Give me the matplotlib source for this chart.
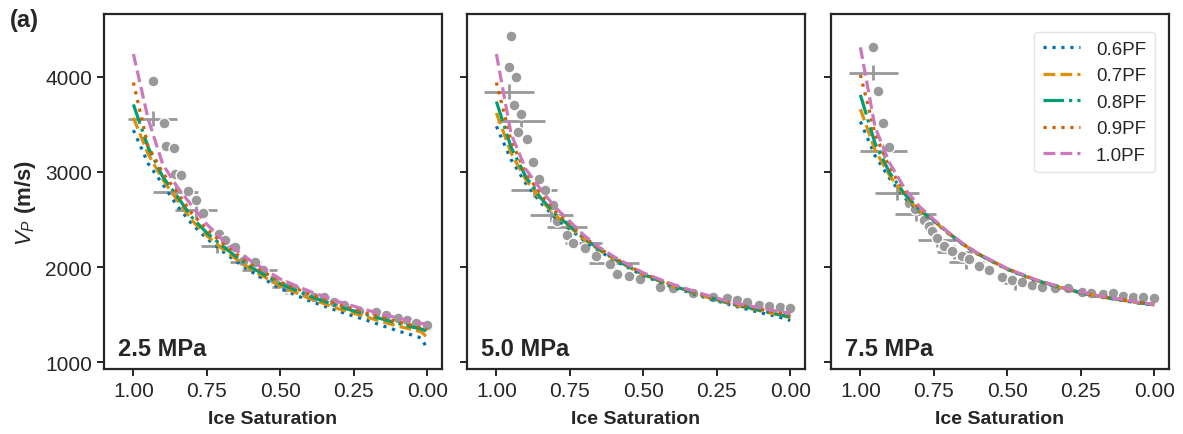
import numpy as np
import matplotlib
matplotlib.use("Agg")
import matplotlib.pyplot as plt

plt.rcParams['font.family'] = ['Liberation Sans', 'DejaVu Sans']
plt.rcParams['mathtext.fontset'] = 'custom'
plt.rcParams['mathtext.rm'] = 'Liberation Sans'
plt.rcParams['mathtext.it'] = 'Liberation Sans:italic'
plt.rcParams['mathtext.bf'] = 'Liberation Sans:bold'

# ---------------- data ----------------
pressures = ["2.5 MPa", "5.0 MPa", "7.5 MPa"]
series_labels = ["0.6PF", "0.7PF", "0.8PF", "0.9PF", "1.0PF"]
series_colors = ["#0173b2", "#de8f05", "#029e73", "#d55e00", "#cc78bc"]

# model curves: ice saturation grid
S_grid = [1.0, 0.95, 0.9, 0.85, 0.8, 0.75, 0.7, 0.65, 0.6, 0.5, 0.4, 0.3, 0.2, 0.1, 0.05, 0.02, 0.0]

# panel 1 (2.5 MPa)
p1_06 = [3440, 3090, 2870, 2640, 2450, 2300, 2175, 2060, 1955, 1775, 1645, 1535, 1435, 1330, 1285, 1255, 1140]
p1_07 = [3570, 3190, 2920, 2700, 2490, 2330, 2200, 2085, 1980, 1800, 1670, 1560, 1470, 1380, 1345, 1320, 1260]
p1_08 = [3710, 3260, 2950, 2740, 2520, 2360, 2230, 2110, 2000, 1825, 1695, 1585, 1495, 1410, 1370, 1350, 1325]
p1_09 = [3940, 3270, 2990, 2780, 2560, 2400, 2260, 2140, 2030, 1845, 1715, 1605, 1510, 1425, 1385, 1360, 1345]
p1_10 = [4240, 3560, 3080, 2840, 2640, 2450, 2300, 2180, 2065, 1875, 1745, 1635, 1545, 1465, 1430, 1410, 1395]

# panel 2 (5.0 MPa)
p2_06 = [3480, 3130, 2880, 2680, 2520, 2400, 2275, 2170, 2075, 1910, 1790, 1690, 1600, 1520, 1485, 1460, 1440]
p2_07 = [3620, 3200, 2920, 2710, 2545, 2420, 2290, 2180, 2085, 1920, 1800, 1700, 1610, 1540, 1505, 1485, 1470]
p2_08 = [3740, 3260, 2950, 2730, 2560, 2430, 2300, 2190, 2090, 1925, 1805, 1705, 1615, 1545, 1510, 1490, 1480]
p2_09 = [3940, 3330, 2990, 2770, 2590, 2450, 2310, 2200, 2100, 1930, 1810, 1710, 1620, 1555, 1525, 1505, 1495]
p2_10 = [4240, 3400, 3030, 2820, 2630, 2480, 2330, 2210, 2110, 1940, 1820, 1720, 1630, 1570, 1540, 1525, 1515]

# panel 3 (7.5 MPa)
p3_06 = [3530, 3170, 2930, 2730, 2585, 2480, 2350, 2235, 2135, 1975, 1855, 1765, 1695, 1645, 1620, 1610, 1600]
p3_07 = [3660, 3230, 2960, 2750, 2595, 2485, 2355, 2238, 2138, 1978, 1858, 1768, 1698, 1648, 1623, 1612, 1603]
p3_08 = [3810, 3300, 2990, 2770, 2605, 2490, 2358, 2240, 2140, 1980, 1860, 1770, 1700, 1650, 1625, 1614, 1605]
p3_09 = [4020, 3400, 3040, 2800, 2620, 2495, 2360, 2242, 2142, 1982, 1862, 1772, 1702, 1652, 1627, 1616, 1606]
p3_10 = [4310, 3470, 3090, 2830, 2640, 2500, 2365, 2245, 2145, 1985, 1865, 1775, 1705, 1655, 1630, 1618, 1608]

model_curves = [
    [p1_06, p1_07, p1_08, p1_09, p1_10],
    [p2_06, p2_07, p2_08, p2_09, p2_10],
    [p3_06, p3_07, p3_08, p3_09, p3_10],
]

# measured points (ice saturation, Vp)
d1_S = [0.934, 0.895, 0.889, 0.862, 0.86, 0.837, 0.815, 0.786, 0.763, 0.71, 0.69, 0.653, 0.628,
        0.585, 0.559, 0.52, 0.482, 0.414, 0.386, 0.352, 0.317, 0.283, 0.232, 0.175, 0.141, 0.10,
        0.07, 0.038, 0.0]
d1_V = [3955, 3517, 3269, 3248, 2983, 2973, 2800, 2707, 2569, 2345, 2290, 2207, 2069,
        2052, 1965, 1880, 1793, 1724, 1690, 1690, 1638, 1603, 1535, 1524, 1500, 1470,
        1440, 1414, 1390]
d2_S = [0.95, 0.956, 0.933, 0.941, 0.915, 0.926, 0.896, 0.875, 0.854, 0.833, 0.807, 0.794, 0.76,
        0.74, 0.70, 0.66, 0.612, 0.59, 0.55, 0.51, 0.442, 0.398, 0.33, 0.262, 0.215, 0.181,
        0.147, 0.108, 0.074, 0.034, 0.0]
d2_V = [4424, 4103, 3993, 3707, 3610, 3421, 3345, 3103, 2924, 2810, 2655, 2483, 2334,
        2259, 2200, 2120, 2034, 1931, 1910, 1879, 1793, 1776, 1724, 1690, 1672, 1655,
        1638, 1603, 1593, 1586, 1569]
d3_S = [0.956, 0.939, 0.923, 0.903, 0.835, 0.815, 0.784, 0.767, 0.756, 0.739, 0.716, 0.688, 0.654,
        0.632, 0.598, 0.564, 0.519, 0.485, 0.451, 0.417, 0.383, 0.338, 0.293, 0.247, 0.214,
        0.174, 0.14, 0.106, 0.072, 0.038, 0.0]
d3_V = [4317, 3855, 3510, 3266, 2679, 2610, 2500, 2431, 2379, 2310, 2224, 2172, 2120,
        2086, 2017, 1965, 1897, 1862, 1845, 1810, 1793, 1776, 1776, 1741, 1724,
        1714, 1724, 1700, 1690, 1690, 1672]
data_S = [d1_S, d2_S, d3_S]
data_V = [d1_V, d2_V, d3_V]

# averaged points with error bars
e1_S = [0.934, 0.856, 0.787, 0.716, 0.619, 0.572, 0.482]
e1_V = [3562, 2786, 2596, 2224, 2052, 1965, 1793]
e1_xerr = [0.084, 0.077, 0.07, 0.054, 0.054, 0.06, 0.046]
e2_S = [0.958, 0.915, 0.873, 0.814, 0.76, 0.703, 0.60]
e2_V = [3845, 3534, 2810, 2552, 2420, 2259, 2045]
e2_xerr = [0.085, 0.082, 0.078, 0.073, 0.068, 0.062, 0.085]
e3_S = [0.956, 0.92, 0.875, 0.812, 0.739, 0.68, 0.64, 0.475]
e3_V = [4045, 3217, 2776, 2559, 2286, 2160, 2052, 1834]
e3_xerr = [0.084, 0.08, 0.076, 0.07, 0.064, 0.06, 0.06, 0.035]
err_S = [e1_S, e2_S, e3_S]
err_V = [e1_V, e2_V, e3_V]
err_X = [e1_xerr, e2_xerr, e3_xerr]
yerr_val = 75

# ---------------- styles ----------------
styles = [
    dict(linestyle=(0, (1, 1.8))),
    dict(linestyle='--'),
    dict(linestyle='-.'),
    dict(linestyle=(0, (1, 1.8))),
    dict(linestyle='--'),
]
gray = "#999999"
dark = "#262626"

fig = plt.figure(figsize=(11.83, 4.35), dpi=100)
lefts = [104, 467, 831]
W = 338
top, bottom = 15, 370
axes = []
for i, l in enumerate(lefts):
    ax = fig.add_axes([l / 1183, 1 - bottom / 435, W / 1183, (bottom - top) / 435])
    axes.append(ax)

for i, ax in enumerate(axes):
    ax.errorbar(err_S[i], err_V[i], xerr=err_X[i], yerr=yerr_val, fmt='none',
                ecolor=gray, elinewidth=2, capsize=0, zorder=2)
    ax.scatter(data_S[i], data_V[i], s=62, color=gray, edgecolor='white',
               linewidth=1.0, zorder=3)
    for j, curve in enumerate(model_curves[i]):
        ax.plot(S_grid, curve, color=series_colors[j], lw=2.3,
                label=series_labels[j], zorder=4, **styles[j])
    ax.set_xlim(1.1, -0.05)
    ax.set_ylim(930, 4660)
    ax.set_xticks([1.0, 0.75, 0.5, 0.25, 0.0])
    ax.set_xticklabels(["1.00", "0.75", "0.50", "0.25", "0.00"])
    ax.set_yticks([1000, 2000, 3000, 4000])
    if i > 0:
        ax.set_yticklabels([])
    ax.tick_params(direction='out', length=5, width=1.4, colors=dark,
                   labelsize=15, labelcolor=dark)
    for sp in ax.spines.values():
        sp.set_linewidth(1.6)
        sp.set_color(dark)
    ax.set_xlabel("Ice Saturation", fontsize=14, fontweight='bold', color=dark,
                  labelpad=7)
    ax.text(0.04, 0.025, pressures[i], transform=ax.transAxes, fontsize=17,
            fontweight='bold', color=dark, ha='left', va='bottom')

axes[0].set_ylabel(r"$V_P$ (m/s)", fontsize=16, fontweight='bold', color=dark)
axes[0].yaxis.set_label_coords(-0.195, 0.47)
leg = axes[2].legend(loc='upper right', fontsize=13.5, frameon=True,
                     handlelength=2.0, borderpad=0.45, labelspacing=0.5,
                     handletextpad=0.85, bbox_to_anchor=(0.985, 0.975))
leg.get_frame().set_edgecolor('#dddddd')
leg.get_frame().set_linewidth(1.0)
for t in leg.get_texts():
    t.set_color(dark)

fig.text(10 / 1183, 1 - 20 / 435, "(a)", fontsize=17, fontweight='bold',
         color=dark, ha='left', va='center')

fig.savefig("out.png", dpi=100)
